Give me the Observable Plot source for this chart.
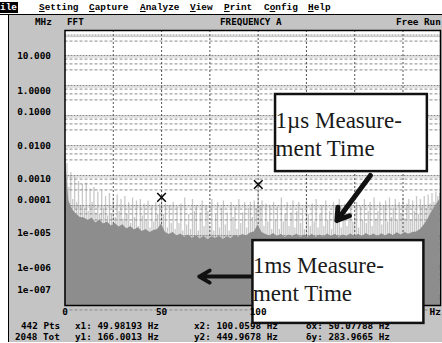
<!DOCTYPE html>
<html><head><meta charset="utf-8">
<script src="https://cdn.jsdelivr.net/npm/d3@7"></script>
<script src="https://cdn.jsdelivr.net/npm/@observablehq/plot@0.6"></script>
<style>
html,body{margin:0;padding:0;background:#fff;}
#wrap{position:relative;width:442px;height:343px;overflow:hidden;font-family:"DejaVu Sans Mono",monospace;font-weight:bold;font-size:9.3px;color:#000;}
#menu{position:absolute;left:0;top:0;width:442px;height:14px;background:#fff;border-bottom:1px solid #000;font-family:"Liberation Mono",monospace;font-size:9.4px;}
#panel{position:absolute;left:8px;top:15px;width:433px;height:327px;background:#c4c4c4;border-left:1px solid #000;}
.t{position:absolute;white-space:pre;line-height:1;}
.hl{background:#000;color:#fff;}
#chart{position:absolute;left:0;top:0;z-index:2;}
</style></head><body>
<div id="wrap">
  <div id="panel"></div>
  <div id="menu">
    <span class="t hl" style="left:0;top:2px;padding:1px 1px 1px 0">ile</span>
    <span class="t" style="left:39px;top:3px"><u>S</u>etting</span>
    <span class="t" style="left:89px;top:3px"><u>C</u>apture</span>
    <span class="t" style="left:140px;top:3px"><u>A</u>nalyze</span>
    <span class="t" style="left:190px;top:3px"><u>V</u>iew</span>
    <span class="t" style="left:224px;top:3px"><u>P</u>rint</span>
    <span class="t" style="left:264px;top:3px">C<u>o</u>nfig</span>
    <span class="t" style="left:308px;top:3px"><u>H</u>elp</span>
  </div>
  <span class="t" style="left:35px;top:17px">MHz</span>
  <span class="t" style="left:67px;top:17px">FFT</span>
  <span class="t" style="left:220px;top:17px">FREQUENCY A</span>
  <span class="t" style="left:396px;top:17px">Free Run</span>
  <span class="t" style="left:21px;top:321px">442 Pts</span>
  <span class="t" style="left:15px;top:332px">2048 Tot</span>
  <span class="t" style="left:75px;top:321px">x1: 49.98193 Hz</span>
  <span class="t" style="left:75px;top:332px">y1: 166.0013 Hz</span>
  <span class="t" style="left:194px;top:321px">x2: 100.0598 Hz</span>
  <span class="t" style="left:194px;top:332px">y2: 449.9678 Hz</span>
  <span class="t" style="left:306px;top:321px">δx: 50.07788 Hz</span>
  <span class="t" style="left:306px;top:332px">δy: 283.9665 Hz</span>
  <div id="chart"></div>
</div>
<script>
// ---- data (levels are log10 of the displayed amplitude) ----
const fastStep = 1;   // Hz between points, 1 µs measurement trace
const fastLevel = [
 -2.3,-2.6,-3.4,-2.9,-3.8,-3.05,-3.9,-3.2,-4.0,-3.3,
 -4.1,-3.25,-4.2,-3.45,-3.9,-3.4,-4.25,-3.55,-4.3,-3.5,
 -4.1,-3.7,-4.35,-3.6,-4.3,-3.75,-4.4,-3.65,-4.2,-3.8,
 -4.45,-3.7,-4.3,-3.9,-4.6,-3.75,-4.4,-3.85,-4.7,-3.8,
 -4.35,-3.95,-4.5,-3.85,-4.75,-4.0,-4.55,-3.9,-4.3,-3.95,
 -3.72,-4.3,-3.95,-4.75,-4.0,-4.6,-3.9,-4.8,-4.05,-4.6,
 -3.95,-4.85,-3.75,-4.65,-4.3,-4.8,-3.8,-4.2,-4.0,-4.85,
 -4.25,-3.85,-4.7,-4.0,-4.2,-4.7,-3.8,-4.85,-4.3,-3.9,
 -4.75,-4.1,-3.85,-4.65,-4.25,-4.85,-3.9,-4.4,-4.05,-4.8,
 -3.8,-4.6,-4.25,-3.9,-4.75,-4.1,-3.9,-4.4,-3.85,-4.1,
 -3.4,-4.0,-3.85,-4.7,-3.95,-4.55,-4.0,-4.8,-3.9,-4.5,
 -4.05,-4.8,-3.75,-4.55,-4.3,-3.9,-4.7,-4.25,-3.85,-4.75,
 -4.2,-3.9,-4.6,-4.1,-4.8,-3.85,-4.3,-4.7,-3.95,-4.55,
 -3.8,-4.75,-4.3,-4.0,-4.7,-3.85,-4.5,-4.2,-4.8,-3.9,
 -4.35,-4.6,-3.8,-4.75,-4.1,-3.95,-4.7,-4.25,-3.85,-4.55,
 -4.3,-3.9,-4.75,-4.05,-4.5,-3.8,-4.6,-4.2,-3.9,-4.7,
 -3.75,-4.45,-4.2,-3.9,-4.65,-4.0,-3.85,-4.55,-3.75,-4.4,
 -4.1,-3.8,-4.5,-3.9,-4.3,-3.75,-4.45,-3.95,-3.8,-4.5,
 -3.85,-4.2,-3.7,-4.3,-3.8,-4.05,-3.7,-4.1,-3.65,-3.95,
 -3.6,-3.9,-3.55,-3.7,-3.6
];
const slowStep = 2;   // Hz between points, 1 ms measurement trace
const slowLevel = [
 -2.25,-3.85,-4.15,-4.3,-4.4,-4.42,-4.5,-4.42,-4.58,-4.48,
 -4.62,-4.55,-4.68,-4.6,-4.72,-4.64,-4.78,-4.7,-4.82,-4.74,
 -4.87,-4.8,-4.9,-4.83,-4.8,-4.62,-4.9,-4.97,-4.9,-5.02,
 -4.95,-5.07,-4.98,-5.1,-5.01,-5.12,-5.03,-5.14,-5.05,-5.1,
 -5.03,-5.13,-5.04,-5.11,-5.0,-5.06,-4.97,-5.02,-4.92,-4.88,
 -4.65,-4.9,-4.97,-5.02,-4.93,-5.04,-4.96,-5.07,-4.98,-5.05,
 -4.95,-5.07,-4.98,-5.06,-4.96,-5.07,-4.98,-5.05,-4.95,-5.04,
 -4.96,-5.07,-4.98,-5.04,-4.94,-5.05,-4.96,-5.04,-4.93,-5.02,
 -4.95,-5.04,-4.94,-5.02,-4.93,-5.0,-4.91,-4.98,-4.9,-4.96,
 -4.9,-4.88,-4.8,-4.65,-4.45,-4.2,-4.0,-3.8
];
const cursorHz = [49.98193, 100.0598];
const cursorLevel = [-3.73, -3.3];
const yTickPos = [0.97, -0.17, -0.89, -2.03, -3.1, -3.8, -4.93, -6.09, -6.8];
const yTickLabels = ["10.000","1.0000","0.1000","0.0100","0.0010","0.0001","1e-005","1e-006","1e-007"];
const xTicks = [0, 50, 100];
const xGrid = [25, 50, 75, 100, 125, 150, 175];
const decades = [1, 0, -1, -2, -3, -4, -5, -6, -7];
const minorOffsets = [0.12, 0.28, 0.48];
const topDense = [1.68];
const topMinor = [1.48];
const noteText = ["1µs Measure-\nment Time", "1ms Measure-\nment Time"];
const noteHz1 = [109, 97.3];
const noteHz2 = [187.6, 185.8];
const noteTop = [-0.3, -5.17];
const noteBottom = [-2.87, -7.93];
const noteTextTop = [-0.76, -5.6];
const arrowFrom = [[158.1, -3.0], [97.3, -6.37]];
const arrowTo = [[140.8, -4.5], [69.5, -6.37]];

// ---- build tables ----
const yMin = -7.333, yMax = 1.833;
const fast = fastLevel.map((v, i) => ({hz: i * fastStep, v}));
const slow = slowLevel.map((v, i) => ({hz: i * slowStep, v}));
const cursors = cursorHz.map((hz, i) => ({hz, v: cursorLevel[i]}));
const dense = decades.concat(topDense);
const minor = decades.flatMap(d => minorOffsets.map(o => d - o)).concat(topMinor);
const notes = noteText.map((text, i) => ({text, x1: noteHz1[i], x2: noteHz2[i], y1: noteTop[i], y2: noteBottom[i], ty: noteTextTop[i]}));
const arrows = arrowFrom.map((f, i) => ({x1: f[0], y1: f[1], x2: arrowTo[i][0], y2: arrowTo[i][1]}));
const labelOf = new Map(yTickPos.map((p, i) => [p, yTickLabels[i]]));

const chart = Plot.plot({
  width: 442, height: 343,
  marginLeft: 64.5, marginRight: 2, marginTop: 30, marginBottom: 38,
  style: {background: "transparent", fontFamily: "DejaVu Sans Mono, monospace", fontWeight: "bold", fontSize: "9.4px", color: "#000"},
  x: {domain: [0, 194.4]},
  y: {domain: [yMin, yMax]},
  marks: [
    Plot.frame({fill: "#fff", stroke: null}),
    Plot.ruleX(fast, {x: "hz", y1: yMin, y2: "v", stroke: "#c8c8c8", strokeWidth: 1.3}),
    Plot.ruleY(minor, {stroke: "#8a8a8a", strokeDasharray: "3,2", strokeWidth: 1}),
    Plot.ruleY(dense, {stroke: "#8a8a8a", strokeDasharray: "2,1", strokeWidth: 1}),
    Plot.ruleY(dense.map(d => d - 0.05), {stroke: "#8a8a8a", strokeDasharray: "1,1", strokeWidth: 1}),
    Plot.ruleX(xGrid, {stroke: "#555", strokeDasharray: "2,2", strokeWidth: 1}),
    Plot.areaY(slow, {x: "hz", y1: yMin, y2: "v", fill: "#8d8d8d", curve: "linear"}),
    Plot.frame({stroke: "#000", strokeWidth: 1.5}),
    Plot.dot(cursors, {x: "hz", y: "v", symbol: "times", r: 4, stroke: "#000", strokeWidth: 1.5}),
    Plot.arrow(arrows.slice(0, 1), {x1: "x1", y1: "y1", x2: "x2", y2: "y2", stroke: "#111", strokeWidth: 5, headLength: 4, headAngle: 65}),
    Plot.arrow(arrows.slice(1), {x1: "x1", y1: "y1", x2: "x2", y2: "y2", stroke: "#111", strokeWidth: 4, headLength: 4.5, headAngle: 60}),
    Plot.rect(notes, {x1: "x1", x2: "x2", y1: "y1", y2: "y2", fill: "#fff", stroke: "#111", strokeWidth: 2.5}),
    Plot.text(notes, {x: "x1", y: "ty", text: "text", textAnchor: "start", lineAnchor: "top", lineHeight: 1.22, fontSize: 23, fontFamily: "Liberation Serif, Times New Roman, serif", fontWeight: "normal", fill: "#1a1a1a"}),
    Plot.axisY(yTickPos, {tickSize: 0, tickPadding: 14, tickFormat: d => labelOf.get(d), label: null, fill: "#000"}),
    Plot.axisX(xTicks, {tickSize: 0, tickPadding: 3, tickFormat: d => String(d), label: null, fill: "#000"}),
    Plot.text(["Hz"], {frameAnchor: "bottom-right", dx: -11, dy: 3, textAnchor: "start", lineAnchor: "top", fill: "#000"})
  ]
});
document.getElementById("chart").appendChild(chart);
</script>
</body></html>
